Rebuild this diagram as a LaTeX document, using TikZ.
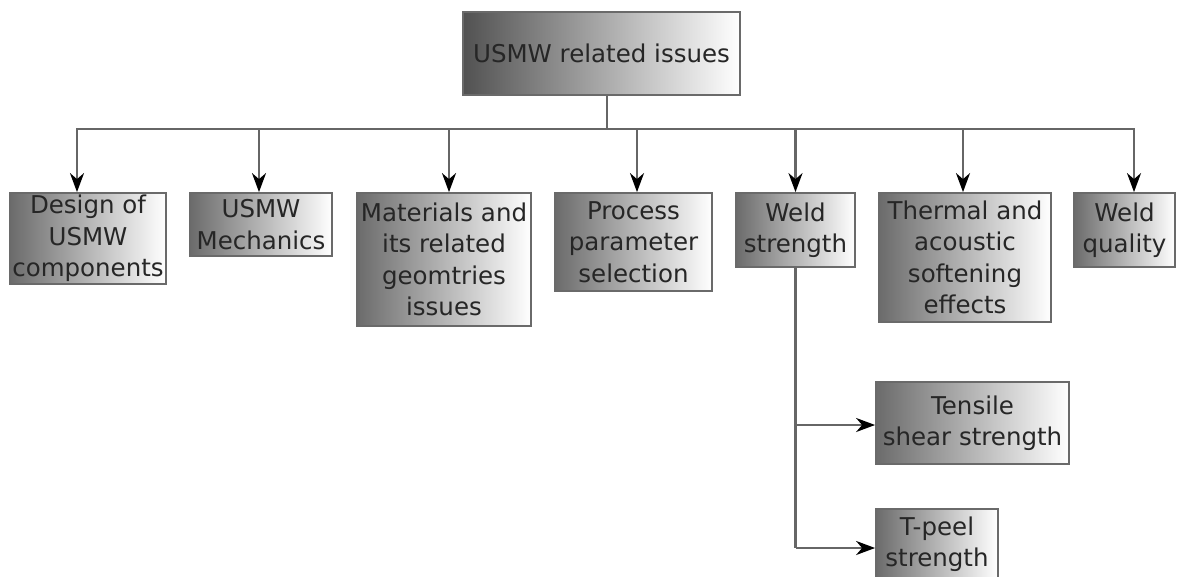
\documentclass[tikz,border=0pt]{standalone}
\usepackage{fontspec}
\setmainfont{DejaVu Sans}
\usetikzlibrary{arrows.meta}
\definecolor{boxborder}{HTML}{6A6A6A}
\definecolor{linkc}{HTML}{666666}
\definecolor{txt}{HTML}{262626}
\begin{document}
\begin{tikzpicture}[x=1pt,y=-1pt,
  box/.style={draw=boxborder, line width=1.8pt, left color=black!58, right color=white,
    text=txt, align=center, inner sep=0pt, font=\fontsize{24.5}{31.5}\selectfont},
  link/.style={draw=linkc, line width=2.2pt},
  arr/.style={link, -{Stealth[length=19pt,width=14pt,inset=6pt,color=black]}}]
\useasboundingbox (0,0) rectangle (1191,576);

\node[box, left color=black!68, minimum width=277pt, minimum height=83pt] (top) at (601.5,53.5) {USMW related issues};

\node[box, minimum width=156pt, minimum height=91pt] (b1) at (88,238.5) {Design of\\USMW\\components};
\node[box, minimum width=142pt, minimum height=63pt] (b2) at (261,224.5) {USMW\\Mechanics};
\node[box, minimum width=174pt, minimum height=133pt] (b3) at (444,259.5) {Materials and\\its related\\geomtries\\issues};
\node[box, minimum width=157pt, minimum height=98pt] (b4) at (633.5,242) {Process\\parameter\\selection};
\node[box, minimum width=119pt, minimum height=74pt] (b5) at (795.5,230) {Weld\\strength};
\node[box, minimum width=172pt, minimum height=129pt] (b6) at (965,257.5) {Thermal and\\acoustic\\softening\\effects};
\node[box, minimum width=101pt, minimum height=74pt] (b7) at (1124.5,230) {Weld\\quality};
\node[box, minimum width=193pt, minimum height=82pt] (b8) at (972.5,423) {Tensile\\shear strength};
\node[box, minimum width=122pt, minimum height=70pt] (b9) at (937,544) {T-peel\\strength};

\coordinate (hub) at (607,129);
\coordinate (c1) at (77,129);
\coordinate (c2) at (259,129);
\coordinate (c3) at (449,129);
\coordinate (c4) at (637,129);
\coordinate (c5) at (795.5,129);
\coordinate (c6) at (963,129);
\coordinate (c7) at (1134,129);

\draw[link] (top.south -| hub) -- (hub);
\draw[link, line cap=rect] (c1) -- (c7);
\foreach \i in {1,...,7} {
  \draw[arr] (c\i) -- (c\i |- b\i.north);
}

\coordinate (br1) at (795.5,425);
\coordinate (br2) at (795.5,548);
\draw[link] (b5.south) -- (br2);
\draw[arr] (br1) -- (br1 -| b8.west);
\draw[arr] (br2) -- (br2 -| b9.west);
\end{tikzpicture}
\end{document}
